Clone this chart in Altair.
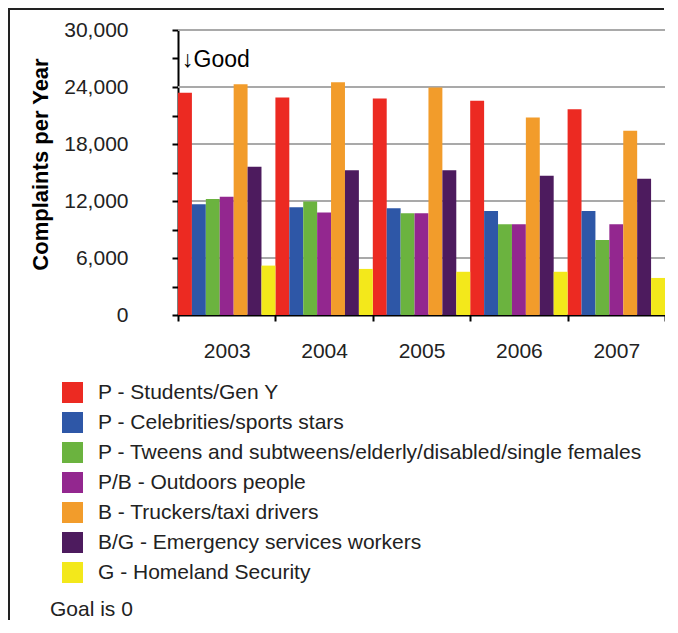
import altair as alt
import pandas as pd

years = ["2003", "2004", "2005", "2006", "2007"]
series = [
    "P - Students/Gen Y",
    "P - Celebrities/sports stars",
    "P - Tweens and subtweens/elderly/disabled/single females",
    "P/B - Outdoors people",
    "B - Truckers/taxi drivers",
    "B/G - Emergency services workers",
    "G - Homeland Security",
]
colors = ["#EC2A22", "#2E57A7", "#6BB33F", "#93278F", "#F29C2B", "#4D1B5E", "#F3E81B"]

students = [23400, 22900, 22800, 22550, 21650]
celebrities = [11650, 11350, 11250, 10950, 10950]
tweens = [12200, 11950, 10700, 9550, 7900]
outdoors = [12450, 10800, 10700, 9550, 9550]
truckers = [24300, 24500, 23950, 20800, 19400]
emergency = [15600, 15250, 15250, 14650, 14350]
homeland = [5200, 4850, 4550, 4550, 3900]

grid_values = [6000, 12000, 18000, 24000, 30000]
tick_values = [0, 3000, 6000, 9000, 12000, 15000, 18000, 21000, 24000, 27000, 30000]

FONT = "Liberation Sans, Arial, sans-serif"

all_vals = [students, celebrities, tweens, outdoors, truckers, emergency, homeland]
rows = []
for s, vals in zip(series, all_vals):
    for y, v in zip(years, vals):
        rows.append({"year": y, "series": s, "value": v})
df = pd.DataFrame(rows)

yscale = alt.Scale(domain=[0, 30000], nice=False)
yaxis = alt.Axis(
    title="Complaints per Year",
    titleFont=FONT,
    titleFontSize=22,
    titleFontWeight="bold",
    titleColor="black",
    titleX=-138,
    titleY=134,
    titleAlign="center",
    titleBaseline="middle",
    titleAngle=270,
    values=tick_values,
    labelExpr="datum.value % 6000 === 0 ? format(datum.value, ',') : ''",
    labelFont=FONT,
    labelFontSize=21,
    labelColor="#222222",
    labelPadding=44,
    domainColor="black",
    domainWidth=2,
    tickColor="black",
    tickWidth=2,
    tickSize=6,
    grid=False,
)

grid = alt.Chart(pd.DataFrame({"g": grid_values})).mark_rule(
    color="#A9A9A9", strokeWidth=2
).encode(y=alt.Y("g:Q", scale=yscale, axis=yaxis))

bars = alt.Chart(df).mark_bar().encode(
    x=alt.X(
        "year:N",
        sort=years,
        scale=alt.Scale(paddingInner=0, paddingOuter=0),
        axis=alt.Axis(
            title=None,
            tickBand="extent",
            domainColor="black",
            domainWidth=2,
            tickColor="black",
            tickWidth=2,
            tickSize=6,
            labelAngle=0,
            labelFont=FONT,
            labelFontSize=21,
            labelColor="#222222",
            labelPadding=19,
            grid=False,
        ),
    ),
    xOffset=alt.XOffset("series:N", sort=series, scale=alt.Scale(paddingInner=0, paddingOuter=0)),
    y=alt.Y("value:Q", scale=yscale, axis=yaxis),
    color=alt.Color(
        "series:N",
        sort=series,
        scale=alt.Scale(domain=series, range=colors),
        legend=alt.Legend(
            title=None,
            orient="none",
            legendX=-116,
            legendY=352,
            symbolType="M-1,-1H1V1H-1Z",
            symbolSize=441,
            symbolStrokeWidth=0,
            labelFont=FONT,
            labelFontSize=21,
            labelColor="#222222",
            labelOffset=15,
            labelLimit=700,
            rowPadding=8,
        ),
    ),
)

one = pd.DataFrame({"t": [1]})
good = alt.Chart(one).mark_text(
    text="↓Good", font=FONT, fontSize=23, align="left", baseline="middle", color="black"
).encode(x=alt.value(4), y=alt.value(30))
goal = alt.Chart(one).mark_text(
    text="Goal is 0", font=FONT, fontSize=21, align="left", baseline="middle", color="#222222"
).encode(x=alt.value(-128), y=alt.value(580))

frame_left = alt.Chart(one).mark_rule(color="#222222", strokeWidth=2).encode(
    x=alt.value(-169), y=alt.value(-21), y2=alt.value(590)
)
frame_top = alt.Chart(one).mark_rule(color="#222222", strokeWidth=2).encode(
    x=alt.value(-170), x2=alt.value(486), y=alt.value(-21)
)

chart = alt.layer(grid, bars, good, goal, frame_left, frame_top).properties(
    width=487,
    height=285,
    autosize=alt.AutoSizeParams(type="none"),
    padding={"left": 170, "top": 22, "right": 0, "bottom": 305},
).configure_view(stroke=None)

chart.save("out.html", embed_options={"renderer": "svg", "actions": False})
